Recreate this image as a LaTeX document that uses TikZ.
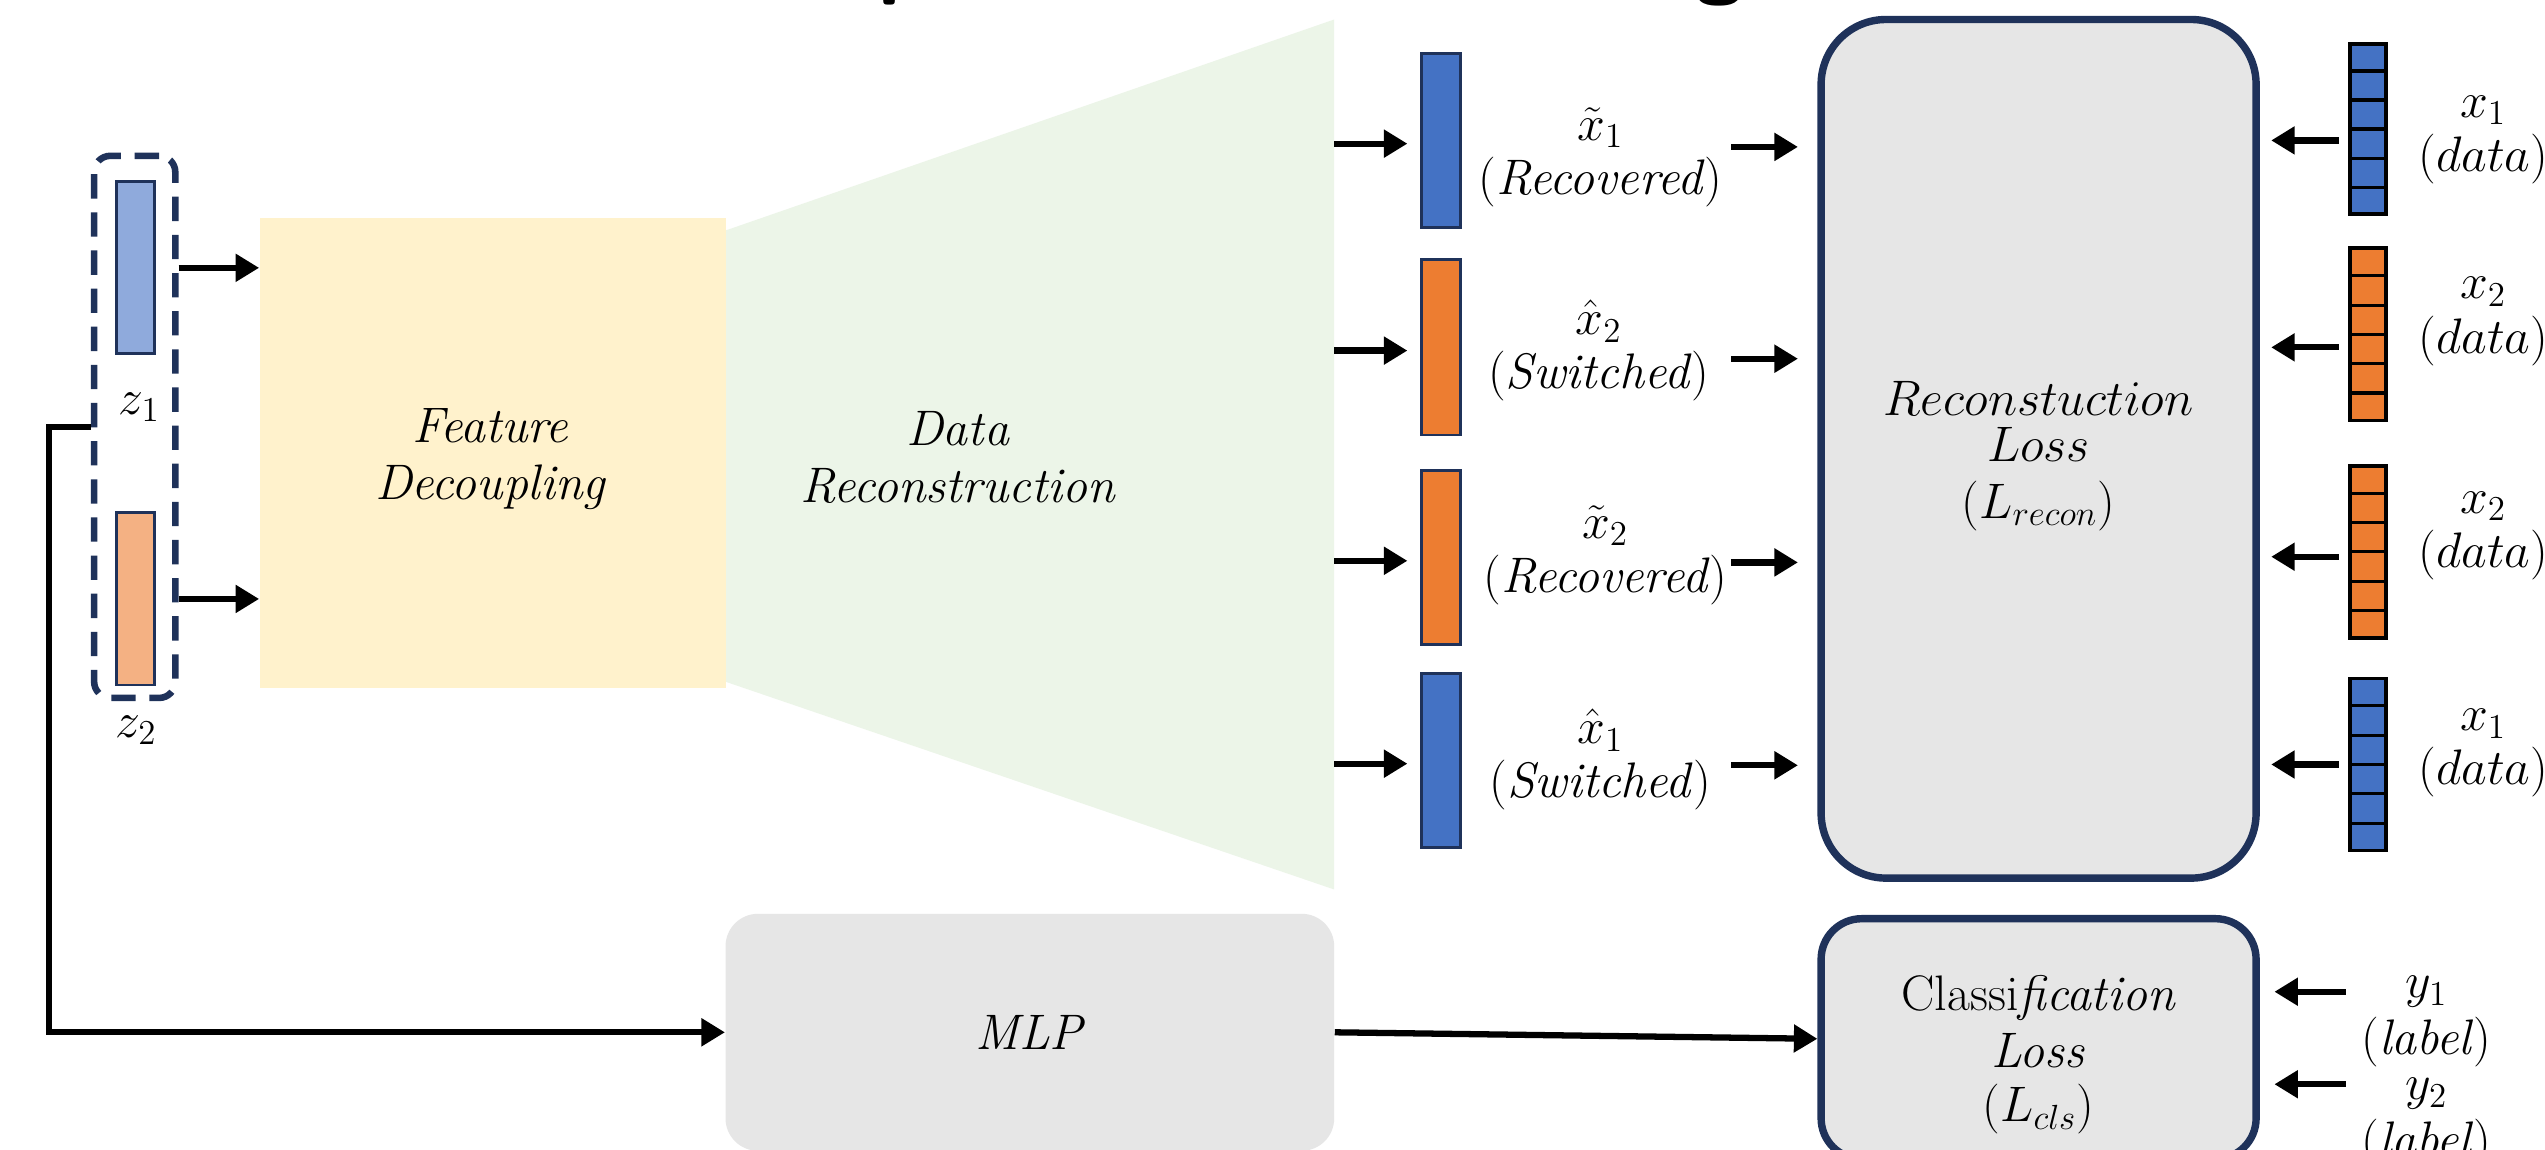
\RequirePackage{fix-cm}
\documentclass[tikz,border=0pt]{standalone}
\usetikzlibrary{arrows.meta,fit,calc}
\definecolor{navy}{RGB}{31,50,90}
\definecolor{zblue}{RGB}{143,170,220}
\definecolor{zorange}{RGB}{244,177,131}
\definecolor{bblue}{RGB}{68,114,196}
\definecolor{borange}{RGB}{237,125,49}
\definecolor{fyellow}{RGB}{255,242,204}
\definecolor{fgreen}{RGB}{236,245,232}
\definecolor{lgray}{RGB}{230,230,230}
\newcommand\figfs{\fontsize{17.5}{20}\selectfont}
\begin{document}
\begin{tikzpicture}[x=0.02cm,y=-0.02cm,
  every node/.style={font=\figfs},
  arr/.style={line width=2.2pt,-{Triangle[length=0.29cm,width=0.33cm]}},
  vbar/.style={draw=navy,line width=1pt,inner sep=0pt},
  dbar/.style={draw=black,line width=1.3pt,inner sep=0pt},
  lossbox/.style={draw=navy,line width=2.6pt,fill=lgray,inner sep=0pt},
  lbl/.style={align=center,inner sep=0pt},
  titlefrag/.style={anchor=base,font=\sffamily\bfseries\fontsize{30}{36}\selectfont}]
\fill[white] (0,0) rectangle (1568,708);
\useasboundingbox (0,0) rectangle (1568,708);

% title fragments cut off at the top
\node[titlefrag] (tp) at (556,-7) {p};
\node[titlefrag] (tg) at (1059,-7) {g};

% data reconstruction trapezoid
\fill[fgreen] (447,142) -- (822,12) -- (822,548) -- (447,420) -- cycle;
\coordinate (recR) at (822,280);
\node[lbl,font=\figfs\itshape] (recn) at (590,282) {Data\\Reconstruction};

% feature decoupling
\node[fit={(160,134) (447,424)},inner sep=0pt,fill=fyellow] (feat) {};
\node[lbl,font=\figfs\itshape] (feattxt) at (302,283) {Feature\\Decoupling};

% latent group
\node[fit={(58,96) (108,430)},inner sep=0pt,draw=navy,line width=2.3pt,
      dash pattern=on 0.3cm off 0.17cm,rounded corners=0.2cm] (zgrp) {};
\node[vbar,fill=zblue,fit={(72,112) (95,218)}] (z1) {};
\node[vbar,fill=zorange,fit={(72,316) (95,422)}] (z2) {};
\node (z1l) at (86,251) {$z_1$};
\node (z2l) at (84,450) {$z_2$};
\draw[arr] (zgrp.east |- z1) -- (feat.west |- z1);
\draw[arr] (zgrp.east |- z2) -- (feat.west |- z2);

% output bars
\node[vbar,fill=bblue,fit={(876,33) (900,140)}] (o1) {};
\node[vbar,fill=borange,fit={(876,160) (900,268)}] (o2) {};
\node[vbar,fill=borange,fit={(876,290) (900,397)}] (o3) {};
\node[vbar,fill=bblue,fit={(876,415) (900,522)}] (o4) {};
\foreach \o in {o1,o2,o3,o4}
  \draw[arr] ($(recR |- \o)+(0,2)$) -- ($(\o.west)+(-8,2)$);

\node[lbl] (l1) at (986,97) {$\tilde{x}_1$\\[-1pt](\textit{Recovered})};
\node[lbl] (l2) at (985,216) {$\hat{x}_2$\\[-1pt](\textit{Switched})};
\node[lbl] (l3) at (989,342) {$\tilde{x}_2$\\[-1pt](\textit{Recovered})};
\node[lbl] (l4) at (986,468) {$\hat{x}_1$\\[-1pt](\textit{Switched})};

% reconstruction loss
\node[lossbox,rounded corners=0.8cm,fit={(1122,12) (1390,541)}] (recon) {};
\node[lbl] (recontxt) at (1256,281) {$Reconstuction$\\[-4pt]$Loss$\\$(L_{recon})$};

\draw[arr] ($(recon.west |- o1)+(-53,4)$) -- ($(recon.west |- o1)+(-12,4)$);
\draw[arr] ($(recon.west |- o2)+(-53,7)$) -- ($(recon.west |- o2)+(-12,7)$);
\draw[arr] ($(recon.west |- o3)+(-53,3)$) -- ($(recon.west |- o3)+(-12,3)$);
\draw[arr] ($(recon.west |- o4)+(-53,3)$) -- ($(recon.west |- o4)+(-12,3)$);

% data bars
\node[dbar,fill=bblue,fit={(1448,27) (1470,132)}] (d1) {};
\node[dbar,fill=borange,fit={(1448,153) (1470,259)}] (d2) {};
\node[dbar,fill=borange,fit={(1448,287) (1470,393)}] (d3) {};
\node[dbar,fill=bblue,fit={(1448,418) (1470,524)}] (d4) {};
\foreach \d in {d1,d2,d3,d4}
  \foreach \k in {1,...,5}
    \draw[line width=1.1pt] ($(\d.north west)!\k/6!(\d.south west)$) -- ($(\d.north east)!\k/6!(\d.south east)$);

\draw[arr] ($(d1.west)+(-6,7)$) -- ($(recon.east |- d1)+(7,7)$);
\draw[arr] ($(d2.west)+(-6,8)$) -- ($(recon.east |- d2)+(7,8)$);
\draw[arr] ($(d3.west)+(-6,3)$) -- ($(recon.east |- d3)+(7,3)$);
\draw[arr] ($(d4.west)+(-6,0)$) -- ($(recon.east |- d4)+(7,0)$);

\node[lbl] (dl1) at (1530,86) {$x_1$\\[-1pt]$(data)$};
\node[lbl] (dl2) at (1530,198) {$x_2$\\[-1pt]$(data)$};
\node[lbl] (dl3) at (1530,330) {$x_2$\\[-1pt]$(data)$};
\node[lbl] (dl4) at (1530,464) {$x_1$\\[-1pt]$(data)$};

% MLP and classification
\node[fit={(447,563) (822,709)},inner sep=0pt,fill=lgray,rounded corners=0.4cm] (mlp) {};
\node[font=\figfs\itshape] (mlptxt) at (634,636) {MLP};
\node[lossbox,rounded corners=0.5cm,fit={(1122,566) (1390,714)}] (cls) {};
\node[lbl] (clstxt) at (1256,650) {Classi\textit{fication}\\\textit{Loss}\\[-1pt]($L_{cls}$)};

\draw[arr] (mlp.east) -- (cls.west);
\draw[arr] (zgrp.west) -- ++(-26,0) |- (mlp.west);

\draw[arr] ($(cls.east)+(53,-29)$) -- ($(cls.east)+(9,-29)$);
\draw[arr] ($(cls.east)+(53,28)$) -- ($(cls.east)+(9,28)$);
\node[inner sep=0pt] (y1l) at (1495,611) {$y_1$};
\node[inner sep=0pt] (y1t) at (1495,642) {(\textit{label})};
\node[inner sep=0pt] (y2l) at (1495,674) {$y_2$};
\node[inner sep=0pt] (y2t) at (1495,705) {(\textit{label})};
\end{tikzpicture}
\end{document}
